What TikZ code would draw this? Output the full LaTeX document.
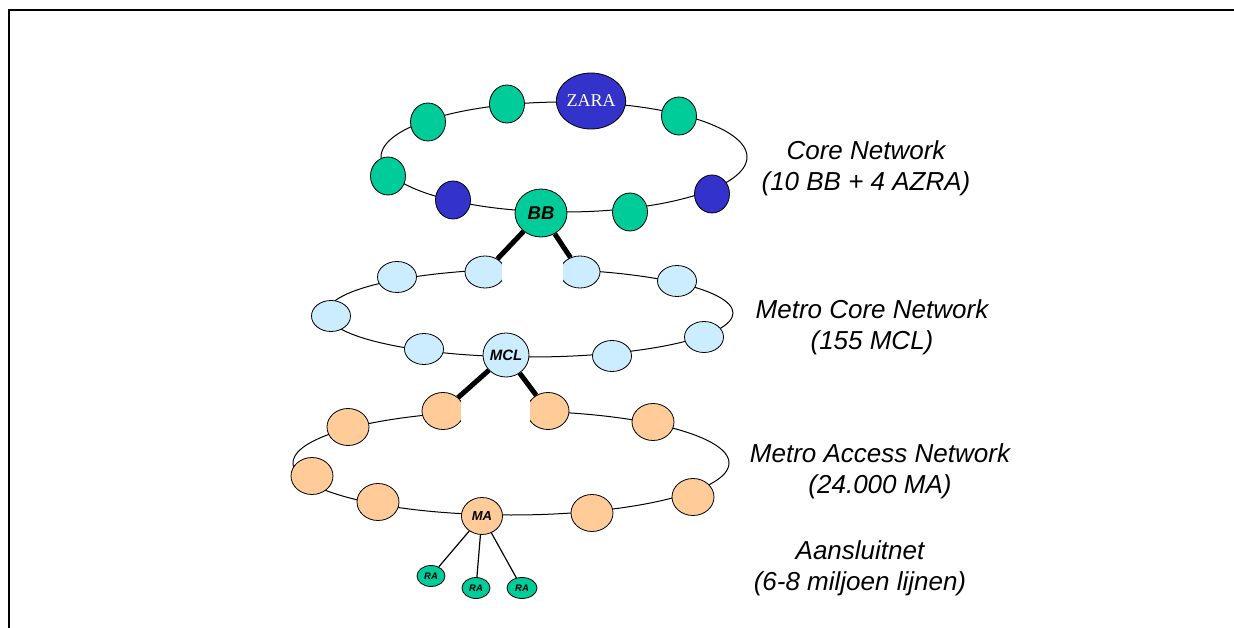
\documentclass[tikz,border=0pt]{standalone}
\usepackage{fontspec}
\setmainfont{Liberation Sans}
\newfontfamily\zarafont{Liberation Serif}
\usetikzlibrary{shapes.geometric}
\definecolor{cgreen}{HTML}{00CC99}
\definecolor{cblue}{HTML}{3333CC}
\definecolor{clblue}{HTML}{CCECFF}
\definecolor{corange}{HTML}{FFCC99}
\begin{document}
\begin{tikzpicture}[x=1pt,y=-1pt,
  ring/.style={draw=black, line width=1pt},
  nd/.style={ellipse, draw=black, line width=0.8pt, inner sep=0pt},
  gnode/.style={nd, fill=cgreen, minimum width=35pt, minimum height=38pt},
  bnode/.style={nd, fill=cblue, minimum width=35pt, minimum height=38pt},
  mnode/.style={nd, fill=clblue, minimum width=39pt, minimum height=31pt},
  anode/.style={nd, fill=corange, minimum width=42pt, minimum height=37pt},
  ranode/.style={nd, fill=cgreen, minimum width=28pt, minimum height=21pt, font=\fontsize{9.5}{10}\selectfont\bfseries\itshape},
  trunk/.style={line width=5pt, black},
  leaf/.style={line width=1.2pt, black},
  cover/.style={fill=white, draw=none},
  lbl/.style={align=center, font=\fontsize{26}{31}\selectfont\itshape, inner sep=0pt}
]
\useasboundingbox (0,0) rectangle (1234,628);
\draw[line width=2pt] (8.5,628) -- (8.5,10) -- (1234,10);

% rings
\draw[ring] (564,157) ellipse [x radius=183pt, y radius=55pt];
\draw[ring] (530,313) ellipse [x radius=203pt, y radius=44pt];
\draw[ring] (511,463) ellipse [x radius=218pt, y radius=52pt];

% core network
\node[gnode] (c1) at (428,122) {};
\node[gnode] (c2) at (507,104) {};
\node[nd, fill=cblue, minimum width=60pt, minimum height=56pt, font=\zarafont\fontsize{18}{20}\selectfont, text=white] (zara) at (591,101) {ZARA};
\node[gnode] (c3) at (679,116) {};
\node[gnode] (c4) at (388,176) {};
\node[bnode] (c5) at (453,200) {};
\node[nd, fill=cgreen, minimum width=52pt, minimum height=48pt, font=\fontsize{18.5}{20}\selectfont\bfseries\itshape] (bb) at (541,213) {BB};
\node[gnode] (c6) at (630,212) {};
\node[bnode] (c7) at (712,194) {};

% metro core network
\node[mnode] (m1) at (397,277) {};
\node[mnode, minimum width=40pt, minimum height=32pt] (m2) at (485,272) {};
\node[mnode, minimum width=40pt, minimum height=32pt] (m3) at (580,272) {};
\node[mnode] (m4) at (677,281) {};
\node[mnode] (m5) at (331,316) {};
\node[mnode] (m6) at (424,349) {};
\node[nd, fill=clblue, minimum width=46pt, minimum height=44pt, font=\fontsize{15}{16}\selectfont\bfseries\itshape] (mcl) at (506,355) {MCL};
\node[mnode] (m7) at (612,356) {};
\node[mnode] (m8) at (704,337) {};

% metro access network
\node[anode] (a1) at (348,427) {};
\node[anode] (a2) at (443,411) {};
\node[anode] (a3) at (548,411) {};
\node[anode] (a4) at (653,422) {};
\node[anode] (a5) at (312,476) {};
\node[anode] (a6) at (378,502) {};
\node[nd, fill=corange, minimum width=41pt, minimum height=37pt, font=\fontsize{13}{14}\selectfont\bfseries\itshape] (ma) at (482,516) {MA};
\node[anode] (a7) at (592,513) {};
\node[anode] (a8) at (693,497) {};

% access lines
\node[ranode] (ra1) at (431,576) {RA};
\node[ranode] (ra2) at (476,588) {RA};
\node[ranode, minimum width=30pt] (ra3) at (522,588) {RA};

% white gaps between linked nodes
\fill[cover] (502,250) rectangle (563,294);
\fill[cover] (461,388) rectangle (530,434);

% trunk links
\draw[trunk] (bb) -- (m2);
\draw[trunk] (bb) -- (m3);
\draw[trunk] (mcl) -- (a2);
\draw[trunk] (mcl) -- (a3);
\draw[leaf] (ma) -- (ra1);
\draw[leaf] (ma) -- (ra2);
\draw[leaf] (ma) -- (ra3);

% labels
\node[lbl] (lcore) at (866,168) {Core Network\\(10 BB + 4 AZRA)};
\node[lbl] (lmetro) at (872,327) {Metro Core Network\\(155 MCL)};
\node[lbl] (laccess) at (880,471) {Metro Access Network\\(24.000 MA)};
\node[lbl] (lconn) at (860,568) {Aansluitnet\\(6-8 miljoen lijnen)};
\end{tikzpicture}
\end{document}
